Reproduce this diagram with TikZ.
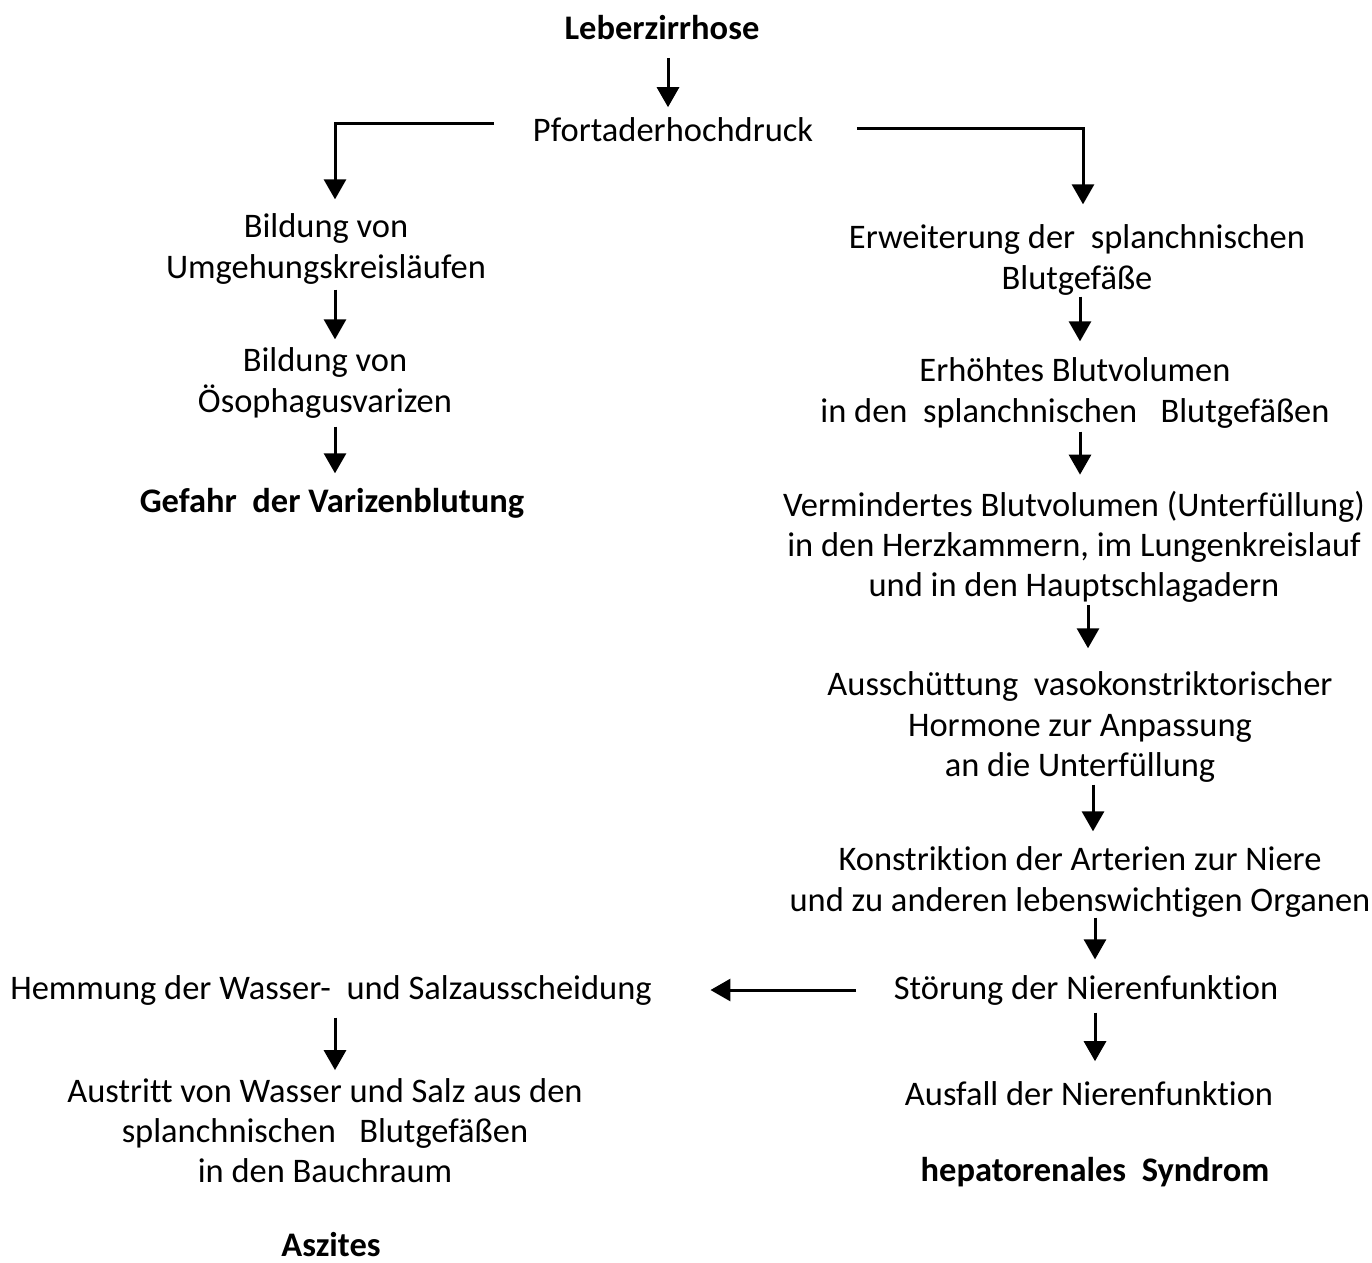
\documentclass[tikz,border=0pt]{standalone}
\usepackage{fontspec}
\setmainfont{Carlito}[Ligatures=NoCommon]
\usetikzlibrary{positioning, arrows.meta}

\begin{document}
\begin{tikzpicture}[
  x=0.01cm, y=-0.01cm,
  font=\fontsize{9.8}{11.4}\selectfont,
  % --- node styles ---
  txt/.style={align=center, inner sep=0pt},
  key/.style={txt, font=\fontsize{9.8}{11.4}\selectfont\bfseries},
  arr/.style={-{Triangle[width=0.22cm, length=0.2cm]}, line width=0.03cm},
]
\useasboundingbox (0,0) rectangle (1372,1262);

% ══════════════════════════════════════════════
% TOP
% ══════════════════════════════════════════════

\node[key] (leber) at (662,28) {Leberzirrhose};
\node[txt] (pfort) at (673,130) {Pfortaderhochdruck};

% ══════════════════════════════════════════════
% LEFT COLUMN
% ══════════════════════════════════════════════

\node[txt] (umg) at (326,249) {Bildung von\\Umgehungskreisläufen};
\node[txt] (oeso) at (325,383) {Bildung von\\Ösophagusvarizen};
\node[key] (gefahr) at (332,503) {Gefahr\ \ der Varizenblutung};

\node[txt] (hemm) at (331,990) {Hemmung der Wasser-\ \ und Salzausscheidung};
\node[txt] (austr) at (325,1131) {Austritt von Wasser und Salz aus den\\
  splanchnischen\ \ \ Blutgefäßen\\in den Bauchraum};
\node[key] (aszites) at (331,1245) {Aszites};

% ══════════════════════════════════════════════
% RIGHT COLUMN
% ══════════════════════════════════════════════

\node[txt] (erw) at (1077,260) {Erweiterung der\ \ splanchnischen\\Blutgefäße};
\node[txt] (erh) at (1075,393) {Erhöhtes Blutvolumen\\
  in den\ \ splanchnischen\ \ \ Blutgefäßen};
\node[txt] (verm) at (1074,547) {Vermindertes Blutvolumen (Unterfüllung)\\
  in den Herzkammern, im Lungenkreislauf\\und in den Hauptschlagadern};
\node[txt] (aus) at (1080,727) {Ausschüttung\ \ vasokonstriktorischer\\
  Hormone zur Anpassung\\an die Unterfüllung};
\node[txt] (kon) at (1080,882) {Konstriktion\ der Arterien zur Niere\\
  und zu anderen lebenswichtigen Organen};
\node[txt] (stoer) at (1086,990) {Störung der Nierenfunktion};
\node[txt] (ausf) at (1089,1094) {Ausfall der Nierenfunktion};
\node[key] (hepa) at (1095,1172) {hepatorenales\ \ Syndrom};

% ══════════════════════════════════════════════
% ARROWS
% ══════════════════════════════════════════════

\draw[arr, shorten <=0.17cm, shorten >=0.1cm]
  ([xshift=0.06cm]leber.south) -- ([xshift=0.06cm]leber.south |- pfort.north);

% branches
\draw[arr, shorten <=0.38cm, shorten >=0.14cm]
  ([yshift=0.07cm]pfort.west) -| ([xshift=0.09cm]umg.north);
\draw[arr, shorten <=0.43cm, shorten >=0.2cm]
  ([yshift=0.02cm]pfort.east) -| ([xshift=0.06cm]erw.north);

% left chain
\draw[arr, shorten <=0.05cm, shorten >=0.08cm]
  ([xshift=0.09cm]umg.south) -- ([xshift=0.09cm]umg.south |- oeso.north);
\draw[arr, shorten <=0.08cm, shorten >=0.14cm]
  ([xshift=0.1cm]oeso.south) -- ([xshift=0.1cm]oeso.south |- gefahr.north);

% right chain
\draw[arr, shorten <=0.01cm, shorten >=0.16cm]
  ([xshift=0.03cm]erw.south) -- ([xshift=0.03cm]erw.south |- erh.north);
\draw[arr, shorten <=0.03cm, shorten >=0.16cm]
  ([xshift=0.05cm]erh.south) -- ([xshift=0.05cm]erh.south |- verm.north);
\draw[arr, shorten <=0.02cm, shorten >=0.23cm]
  ([xshift=0.14cm]verm.south) -- ([xshift=0.14cm]verm.south |- aus.north);
\draw[arr, shorten <=0.02cm, shorten >=0.15cm]
  ([xshift=0.13cm]aus.south) -- ([xshift=0.13cm]aus.south |- kon.north);
\draw[arr, shorten <=0.0cm, shorten >=0.15cm]
  ([xshift=0.15cm]kon.south) -- ([xshift=0.15cm]kon.south |- stoer.north);
\draw[arr, shorten <=0.07cm, shorten >=0.2cm]
  ([xshift=0.09cm]stoer.south) -- ([xshift=0.09cm]stoer.south |- ausf.north);

% across
\draw[arr, shorten <=0.37cm, shorten >=0.58cm]
  (stoer.west) -- (stoer.west -| hemm.east);
\draw[arr, shorten <=0.12cm, shorten >=0.08cm]
  ([xshift=0.04cm]hemm.south) -- ([xshift=0.04cm]hemm.south |- austr.north);

\end{tikzpicture}
\end{document}
